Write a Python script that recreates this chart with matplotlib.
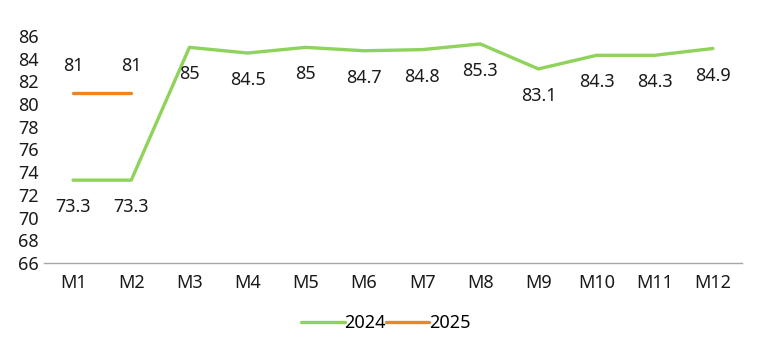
import matplotlib
matplotlib.use("Agg")
import matplotlib.pyplot as plt

plt.rcParams['font.family'] = ['Noto Sans', 'DejaVu Sans']

# data
months = ['M1', 'M2', 'M3', 'M4', 'M5', 'M6', 'M7', 'M8', 'M9', 'M10', 'M11', 'M12']
val_2024 = [73.3, 73.3, 85, 84.5, 85, 84.7, 84.8, 85.3, 83.1, 84.3, 84.3, 84.9]
val_2025 = [81, 81]
green = '#8fd35a'
orange = '#f0841e'
fs = 13

fig = plt.figure(figsize=(7.72, 3.58), dpi=100)
ax = fig.add_axes([44 / 772, 95 / 358, 698 / 772, 227 / 358])

x24 = list(range(len(val_2024)))
x25 = list(range(len(val_2025)))
ax.plot(x24, val_2024, color=green, linewidth=2.4, label='2024', solid_capstyle='round')
ax.plot(x25, val_2025, color=orange, linewidth=2.4, label='2025', solid_capstyle='round')

# data labels: 2024 below, 2025 above
for xi, v in zip(x24, val_2024):
    ax.annotate(f'{v:g}', (xi, v), xytext=(0, -19.5), textcoords='offset points',
                ha='center', va='center', fontsize=fs, color='#1a1a1a')
for xi, v in zip(x25, val_2025):
    ax.annotate(f'{v:g}', (xi, v), xytext=(0, 19.5), textcoords='offset points',
                ha='center', va='center', fontsize=fs, color='#1a1a1a')

ax.set_xlim(-0.5, len(months) - 0.5)
ax.set_ylim(66, 86)
ax.set_yticks(range(66, 87, 2))
ax.set_xticks(x24)
ax.set_xticklabels(months)
ax.tick_params(axis='both', length=0, labelsize=fs, colors='#1a1a1a')
ax.tick_params(axis='x', pad=8)
ax.tick_params(axis='y', pad=4)

for s in ['top', 'right', 'left']:
    ax.spines[s].set_visible(False)
ax.spines['bottom'].set_color('#a6a6a6')
ax.spines['bottom'].set_linewidth(1.0)

fig.legend(loc='center', bbox_to_anchor=(386 / 772, 1 - 323 / 358), ncol=2, frameon=False,
           fontsize=fs, handlelength=2.4, handletextpad=0.0, columnspacing=0.0)

fig.savefig('out.png', dpi=100)
